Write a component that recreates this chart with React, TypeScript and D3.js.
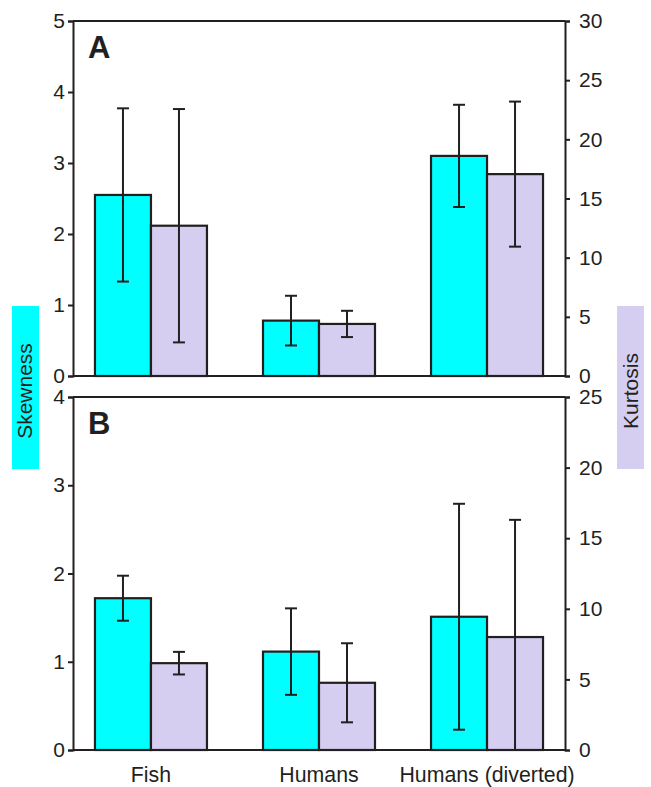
import * as d3 from 'd3';
import { useRef, useEffect } from 'react';

// Categories on the x axis
const categories = ['Fish', 'Humans', 'Humans (diverted)'];

// Panel A values (skewness on left axis, kurtosis on right axis)
const skewA = [2.55, 0.78, 3.10];
const skewAErr = [1.22, 0.35, 0.72];
const kurtA = [12.7, 4.4, 17.06];
const kurtAErr = [9.86, 1.11, 6.13];

// Panel B values
const skewB = [1.72, 1.115, 1.51];
const skewBErr = [0.255, 0.49, 1.28];
const kurtB = [6.15, 4.76, 8.0];
const kurtBErr = [0.8, 2.8, 8.3];

// Tick values
const skewTicksA = [0, 1, 2, 3, 4, 5];
const kurtTicksA = [0, 5, 10, 15, 20, 25, 30];
const skewTicksB = [0, 1, 2, 3, 4];
const kurtTicksB = [0, 5, 10, 15, 20, 25];

const CYAN = '#00ffff';
const LAVENDER = '#d5cef0';
const INK = '#231f20';
const FONT = '"Liberation Sans", Arial, Helvetica, sans-serif';

export default function App() {
    const ref = useRef<SVGSVGElement>(null);

    useEffect(() => {
        const width = 651;
        const height = 787;
        const left = 73;
        const right = 565;

        const svg = d3.select(ref.current)
            .attr('width', width)
            .attr('height', height);
        svg.selectAll('*').remove();

        const xScale = d3.scalePoint<string>()
            .domain(categories)
            .range([left, right])
            .padding(0.464);
        const barW = 56;

        const panels = [
            { label: 'A', top: 21, bottom: 376, skew: skewA, skewErr: skewAErr, kurt: kurtA, kurtErr: kurtAErr, skewMax: 5, kurtMax: 30, skewTicks: skewTicksA, kurtTicks: kurtTicksA },
            { label: 'B', top: 397, bottom: 750, skew: skewB, skewErr: skewBErr, kurt: kurtB, kurtErr: kurtBErr, skewMax: 4, kurtMax: 25, skewTicks: skewTicksB, kurtTicks: kurtTicksB },
        ];

        panels.forEach(p => {
            const g = svg.append('g');
            const ySkew = d3.scaleLinear().domain([0, p.skewMax]).range([p.bottom, p.top]);
            const yKurt = d3.scaleLinear().domain([0, p.kurtMax]).range([p.bottom, p.top]);

            // bars + error bars for both series
            const series = [
                { vals: p.skew, errs: p.skewErr, y: ySkew, fill: CYAN, off: -barW },
                { vals: p.kurt, errs: p.kurtErr, y: yKurt, fill: LAVENDER, off: 0 },
            ];
            series.forEach(s => {
                g.selectAll(null)
                    .data(categories)
                    .enter().append('rect')
                    .attr('x', d => (xScale(d) as number) + s.off)
                    .attr('y', (d, i) => s.y(s.vals[i]))
                    .attr('width', barW)
                    .attr('height', (d, i) => p.bottom - s.y(s.vals[i]))
                    .attr('fill', s.fill)
                    .attr('stroke', INK)
                    .attr('stroke-width', 2.2);

                categories.forEach((c, i) => {
                    const cx = (xScale(c) as number) + s.off + barW / 2;
                    const hi = s.y(s.vals[i] + s.errs[i]);
                    const lo = s.y(Math.max(0, s.vals[i] - s.errs[i]));
                    g.append('line')
                        .attr('x1', cx).attr('x2', cx)
                        .attr('y1', hi).attr('y2', lo)
                        .attr('stroke', INK).attr('stroke-width', 2);
                    [hi, lo].forEach(yy => {
                        g.append('line')
                            .attr('x1', cx - 6).attr('x2', cx + 6)
                            .attr('y1', yy).attr('y2', yy)
                            .attr('stroke', INK).attr('stroke-width', 2);
                    });
                });
            });

            // frame lines top and bottom
            [p.top, p.bottom].forEach(yy => {
                g.append('line')
                    .attr('x1', left).attr('x2', right)
                    .attr('y1', yy).attr('y2', yy)
                    .attr('stroke', INK).attr('stroke-width', 2);
            });

            // left axis
            const yAxisL = g.append('g')
                .attr('transform', `translate(${left},0)`)
                .call(d3.axisLeft(ySkew).tickValues(p.skewTicks).tickSize(5).tickPadding(3).tickFormat(d3.format('d')));
            // right axis
            const yAxisR = g.append('g')
                .attr('transform', `translate(${right},0)`)
                .call(d3.axisRight(yKurt).tickValues(p.kurtTicks).tickSize(5).tickPadding(9).tickFormat(d3.format('d')));

            [yAxisL, yAxisR].forEach(ax => {
                ax.select('.domain').attr('stroke', INK).attr('stroke-width', 2);
                ax.selectAll('.tick line').attr('stroke', INK).attr('stroke-width', 2);
                ax.selectAll('.tick text')
                    .attr('fill', INK)
                    .style('font-family', FONT)
                    .style('font-size', '21px');
            });

            // panel letter
            g.append('text')
                .attr('x', 88)
                .attr('y', p.top + 37)
                .style('font-family', FONT)
                .style('font-size', '31px')
                .style('font-weight', 'bold')
                .attr('fill', INK)
                .text(p.label);
        });

        // category labels
        svg.selectAll('.cat')
            .data(categories)
            .enter().append('text')
            .attr('class', 'cat')
            .attr('x', d => xScale(d) as number)
            .attr('y', 782)
            .attr('text-anchor', 'middle')
            .style('font-family', FONT)
            .style('font-size', '21.3px')
            .attr('fill', INK)
            .text(d => d);

        // axis titles with coloured boxes
        const titles = [
            { text: 'Skewness', x: 12, cx: 25, fill: CYAN },
            { text: 'Kurtosis', x: 617, cx: 631, fill: LAVENDER },
        ];
        titles.forEach(t => {
            svg.append('rect')
                .attr('x', t.x).attr('y', 306)
                .attr('width', 27).attr('height', 163)
                .attr('fill', t.fill);
            svg.append('text')
                .attr('transform', `translate(${t.cx},391) rotate(-90)`)
                .attr('text-anchor', 'middle')
                .attr('dy', '0.35em')
                .style('font-family', FONT)
                .style('font-size', '21px')
                .attr('fill', INK)
                .text(t.text);
        });
    }, []);

    return (
        <svg ref={ref} style={{ position: 'absolute', left: 0, top: 0 }}></svg>
    );
}
